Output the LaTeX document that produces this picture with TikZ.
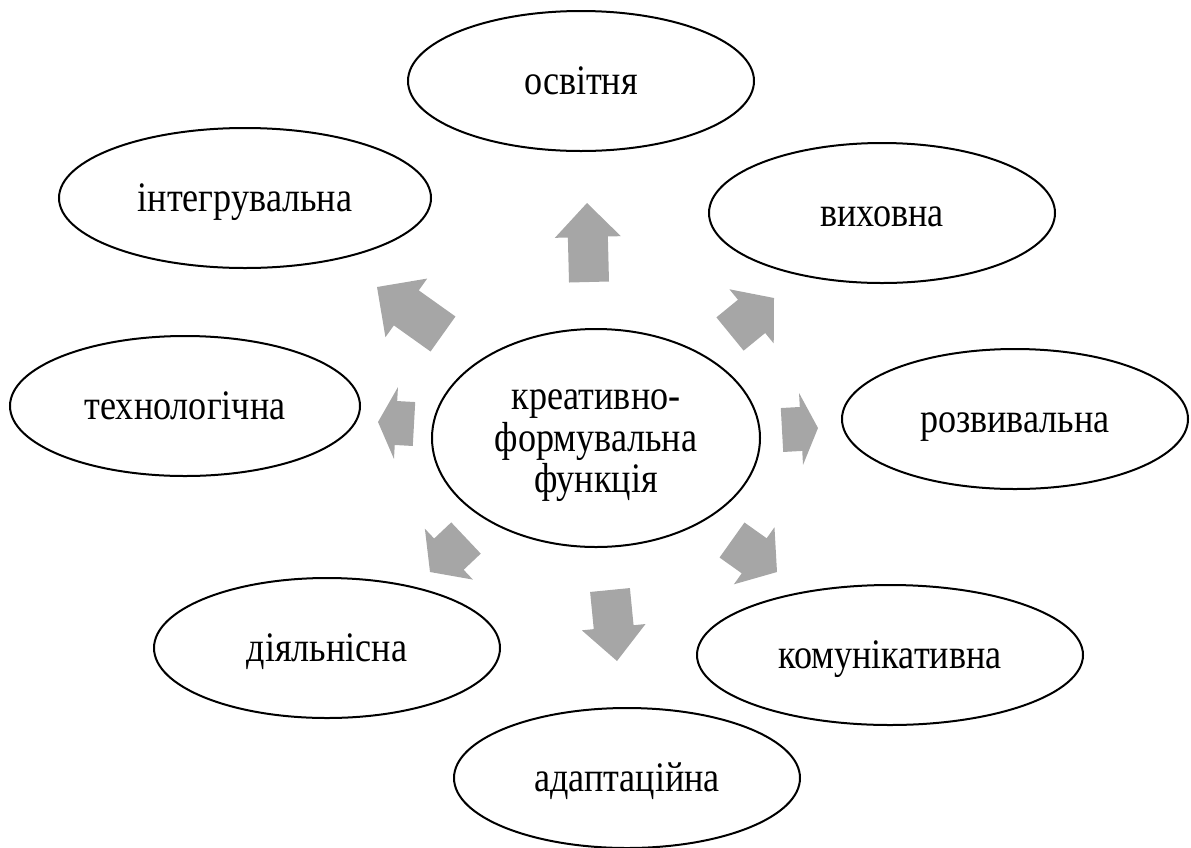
\documentclass[tikz,border=0pt]{standalone}
\usepackage{fontspec}
\setmainfont{Liberation Serif}[FakeStretch=0.86]
\usetikzlibrary{calc,shapes.geometric}
\definecolor{arrowgray}{RGB}{166,166,166}
\tikzset{
  ellbase/.style={ellipse, draw=black, line width=2pt, fill=white, inner sep=0pt,
    minimum width=346pt, minimum height=140pt,
    font=\fontsize{42pt}{41.5pt}\selectfont},
  func/.style={ellbase, text height=30pt, text depth=4pt},
  arrowfill/.style={fill=arrowgray}
}
% #1 start, #2 tip, #3 head length, #4 head half width, #5 shaft half width
\newcommand{\blockarrow}[5]{%
  \coordinate (hb) at ($(#2)!#3!(#1)$);
  \fill[arrowfill] ($(#1)!#5!90:(#2)$) -- ($(hb)!#5!90:(#2)$) -- ($(hb)!#4!90:(#2)$)
    -- (#2) -- ($(hb)!#4!-90:(#2)$) -- ($(hb)!#5!-90:(#2)$) -- ($(#1)!#5!-90:(#2)$) -- cycle;
}
\begin{document}
\begin{tikzpicture}[x=1pt,y=-1pt]
\useasboundingbox (0,0) rectangle (1191,847);
% satellites
\node[func] (osv)   at (581,81)  {освітня};
\node[func, minimum width=372pt] (integ) at (245,198) {інтегрувальна};
\node[func] (vyh)   at (882,213) {виховна};
\node[func, minimum width=350pt] (tech)  at (185,406) {технологічна};
\node[func] (rozv)  at (1015,419) {розвивальна};
\node[func] (diyal) at (327,648) {діяльнісна};
\node[func, minimum width=386pt] (komun) at (890,655) {комунікативна};
\node[func] (adapt) at (627,778) {адаптаційна};
% centre
\node[ellbase, minimum width=328pt, minimum height=218pt, align=center] (c) at (596,438)
  {\rule{0pt}{36pt}креативно-\\формувальна\\функція};
% arrow anchors
\coordinate (s1) at (589,282); \coordinate (t1) at (587,203);
\coordinate (s2) at (443,334); \coordinate (t2) at (377,287);
\coordinate (s3) at (730,334); \coordinate (t3) at (774,298);
\coordinate (s4) at (414,424); \coordinate (t4) at (378,422);
\coordinate (s5) at (782,430); \coordinate (t5) at (818,428);
\coordinate (s6) at (466,538); \coordinate (t6) at (430,572);
\coordinate (s7) at (732,540); \coordinate (t7) at (777,572);
\coordinate (s8) at (610,590); \coordinate (t8) at (617,661);
\blockarrow{s1}{t1}{34pt}{33pt}{20pt}
\blockarrow{s2}{t2}{36pt}{36pt}{21.5pt}
\blockarrow{s3}{t3}{29pt}{35pt}{21.5pt}
\blockarrow{s4}{t4}{18pt}{36pt}{22pt}
\blockarrow{s5}{t5}{17pt}{36pt}{22pt}
\blockarrow{s6}{t6}{26pt}{35pt}{21.5pt}
\blockarrow{s7}{t7}{28pt}{35pt}{21.5pt}
\blockarrow{s8}{t8}{34pt}{32pt}{20pt}
\end{tikzpicture}
\end{document}
